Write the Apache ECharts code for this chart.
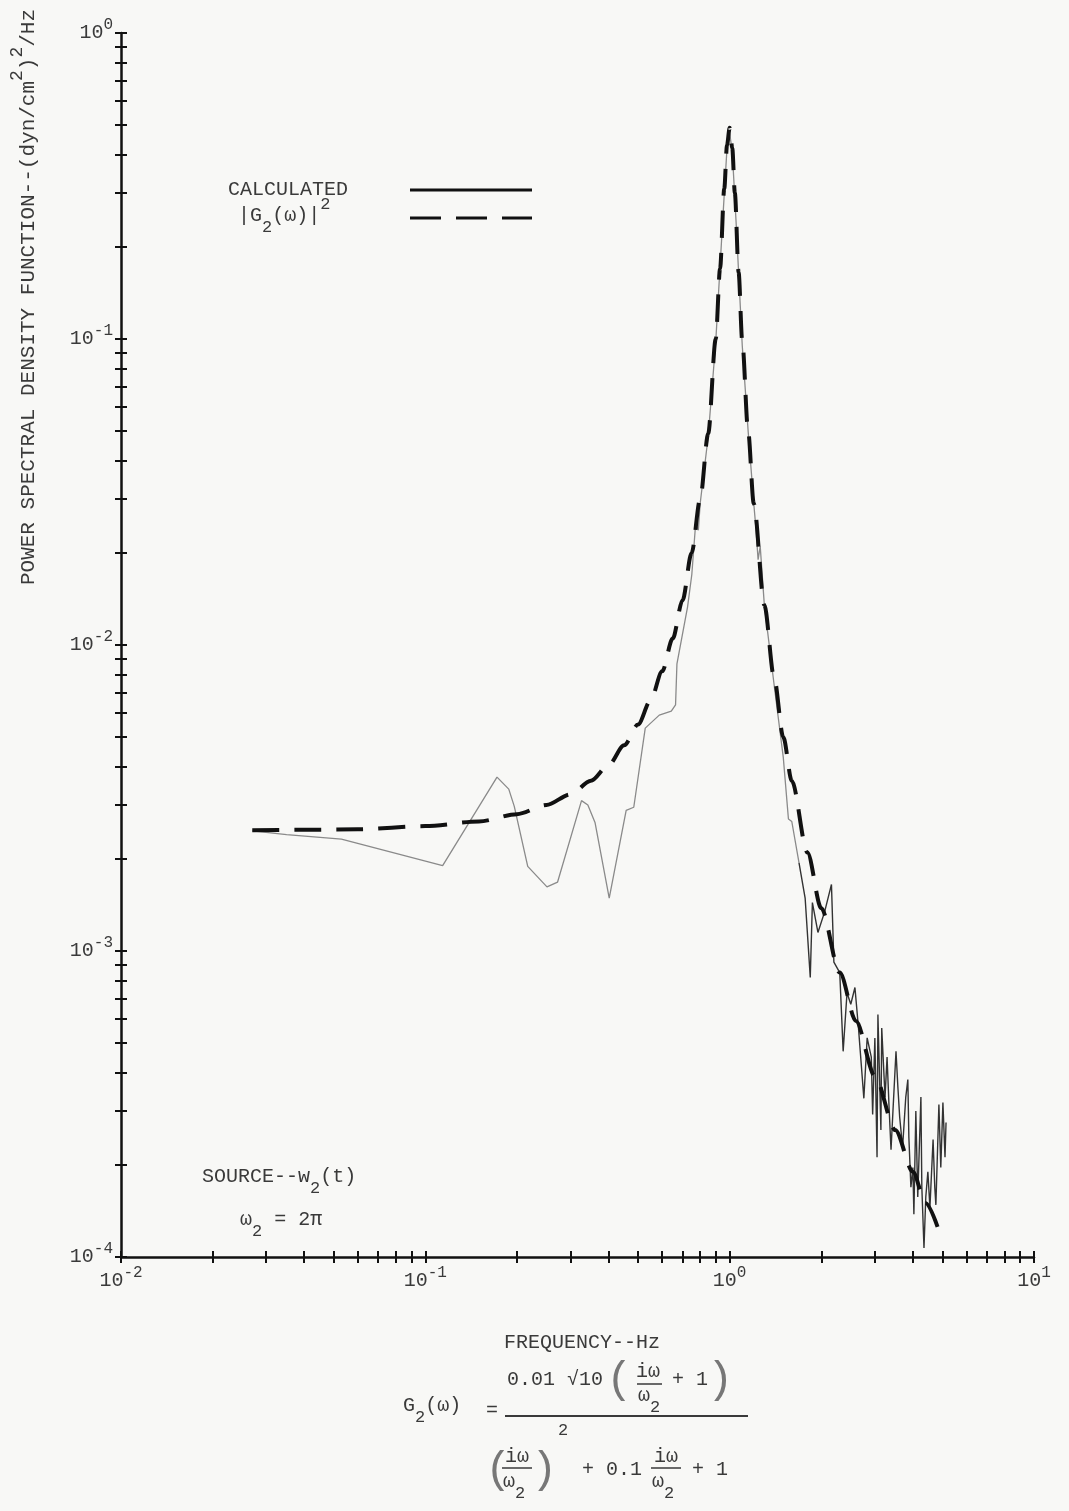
<!DOCTYPE html>
<html>
<head>
<meta charset="utf-8">
<script src="https://cdn.jsdelivr.net/npm/echarts@6.0.0/dist/echarts.min.js"></script>
<style>
  html, body { margin: 0; padding: 0; background: #f8f8f6; }
  #chart { width: 1069px; height: 1511px; }
</style>
</head>
<body>
<div id="chart"></div>
<script>
// light trace (computed spectrum)
var calcFreq = [0.027, 0.035, 0.053, 0.114, 0.172, 0.188, 0.196, 0.217, 0.251, 0.272,
  0.326, 0.342, 0.361, 0.402, 0.457, 0.484, 0.528, 0.587, 0.643, 0.664,
  0.671, 0.727, 0.751, 0.773, 0.789, 0.80, 0.85, 0.90, 0.95, 0.98,
  1.00, 1.02, 1.05, 1.10, 1.15, 1.20, 1.22, 1.24, 1.26, 1.30,
  1.40, 1.50, 1.56, 1.60, 1.69, 1.77, 1.84, 1.87, 1.95, 2.05,
  2.16, 2.20, 2.30, 2.36, 2.43, 2.50, 2.58, 2.65, 2.76, 2.83,
  2.92, 2.95, 3.00, 3.05, 3.07, 3.14, 3.16, 3.24, 3.29, 3.34,
  3.39, 3.44, 3.52, 3.57, 3.62, 3.70, 3.79, 3.85, 3.88, 3.94,
  4.00, 4.03, 4.09, 4.15, 4.25, 4.28, 4.35, 4.41, 4.48, 4.55,
  4.66, 4.72, 4.76, 4.87, 4.94, 5.02, 5.10, 5.14];
var calcPsd = [2.47e-3, 2.40e-3, 2.32e-3, 1.90e-3, 3.70e-3, 3.38e-3, 2.97e-3, 1.89e-3, 1.62e-3, 1.68e-3,
  3.10e-3, 3.00e-3, 2.63e-3, 1.49e-3, 2.88e-3, 2.95e-3, 5.35e-3, 5.90e-3, 6.08e-3, 6.37e-3,
  8.67e-3, 1.33e-2, 1.70e-2, 2.49e-2, 2.37e-2, 2.9e-2, 4.8e-2, 0.098, 0.25, 0.42,
  0.47, 0.41, 0.24, 0.095, 0.050, 0.029, 0.024, 0.019, 0.021, 0.0135,
  7.4e-3, 4.3e-3, 2.7e-3, 2.65e-3, 1.94e-3, 1.49e-3, 8.2e-4, 1.44e-3, 1.15e-3, 1.34e-3,
  1.65e-3, 9.2e-4, 8.5e-4, 4.7e-4, 7.3e-4, 6.7e-4, 7.6e-4, 5.6e-4, 3.3e-4, 5.2e-4,
  4.5e-4, 2.92e-4, 5.2e-4, 2.12e-4, 6.2e-4, 2.6e-4, 5.6e-4, 3.33e-4, 4.5e-4, 3.09e-4,
  2.24e-4, 3.0e-4, 4.7e-4, 3.6e-4, 2.86e-4, 2.28e-4, 3.33e-4, 3.8e-4, 2.46e-4, 1.69e-4,
  1.96e-4, 1.38e-4, 3.0e-4, 1.57e-4, 3.33e-4, 1.69e-4, 1.07e-4, 1.57e-4, 1.9e-4, 1.45e-4,
  2.42e-4, 1.69e-4, 1.48e-4, 3.15e-4, 1.96e-4, 3.2e-4, 2.12e-4, 2.75e-4];
// the trace prints faint up to here and heavy in the noisy tail after it
var calcTailStart = 44;

// |G2(w)|^2 heavy dashed curve
var fitFreq = [0.027, 0.04, 0.06, 0.1, 0.15, 0.2, 0.25, 0.3, 0.35, 0.4,
  0.45, 0.5, 0.55, 0.6, 0.65, 0.7, 0.75, 0.8, 0.85, 0.9,
  0.93, 0.96, 0.98, 1.0, 1.02, 1.04, 1.07, 1.1, 1.15, 1.2,
  1.3, 1.4, 1.5, 1.6, 1.8, 2.0, 2.3, 2.6, 3.0, 3.5,
  4.0, 4.4, 4.87];
var fitPsd = [2.48e-3, 2.49e-3, 2.5e-3, 2.56e-3, 2.65e-3, 2.8e-3, 3.0e-3, 3.25e-3, 3.6e-3, 4.05e-3,
  4.7e-3, 5.5e-3, 6.6e-3, 8.2e-3, 1.05e-2, 1.4e-2, 2.0e-2, 3.0e-2, 4.9e-2, 0.10,
  0.17, 0.31, 0.43, 0.49, 0.42, 0.30, 0.165, 0.098, 0.05, 0.029,
  1.35e-2, 7.8e-3, 5.0e-3, 3.6e-3, 2.1e-3, 1.38e-3, 8.5e-4, 5.9e-4, 3.9e-4, 2.6e-4,
  1.9e-4, 1.5e-4, 1.22e-4];

var xDecades = [-2, -1, 0, 1];
var yDecades = [-4, -3, -2, -1, 0];
var tickSteps = [1, 2, 3, 4, 5, 6, 7, 8, 9];

var FONT = '"Liberation Mono", "DejaVu Sans Mono", monospace';
var INK = '#3a3a3a';

function logTicks(decades) {
  var t = [];
  for (var i = 0; i < decades.length - 1; i++) {
    for (var k = 0; k < tickSteps.length; k++) {
      t.push(+(tickSteps[k] * Math.pow(10, decades[i])).toPrecision(3));
    }
  }
  t.push(Math.pow(10, decades[decades.length - 1]));
  return t;
}
function decadeValues(decades) {
  return decades.map(function (d) { return Math.pow(10, d); });
}
function pairs(xs, ys) {
  return xs.map(function (x, i) { return [x, ys[i]]; });
}
function powLabel(v) {
  var e = Math.round(Math.log10(v));
  return '{b|10}{s|' + e + '}';
}

var labelRich = {
  b: { fontFamily: FONT, fontSize: 20, lineHeight: 32, color: INK },
  s: { fontFamily: FONT, fontSize: 16, lineHeight: 16, color: INK, verticalAlign: 'top' }
};
var textRich = {
  b: { fontFamily: FONT, fontSize: 20, lineHeight: 40, fill: INK },
  sub: { fontFamily: FONT, fontSize: 17, lineHeight: 17, fill: INK, verticalAlign: 'bottom' },
  sup: { fontFamily: FONT, fontSize: 17, lineHeight: 17, fill: INK, verticalAlign: 'top' }
};
var titleRich = {
  b: { fontFamily: FONT, fontSize: 21, lineHeight: 40, fill: INK },
  sup: { fontFamily: FONT, fontSize: 18, lineHeight: 18, fill: INK, verticalAlign: 'top' }
};

function logAxis(dec, inside, withLabels, extra) {
  var ax = {
    type: 'log',
    logBase: 10,
    min: Math.pow(10, dec[0]),
    max: Math.pow(10, dec[dec.length - 1]),
    axisLine: { show: withLabels, lineStyle: { color: '#111', width: 2.5 } },
    axisTick: {
      show: true, inside: inside, length: 6,
      customValues: logTicks(dec),
      lineStyle: { color: '#111', width: 2 }
    },
    minorTick: { show: false },
    splitLine: { show: false },
    axisLabel: { show: false }
  };
  if (withLabels) {
    ax.axisLabel = {
      show: true,
      customValues: decadeValues(dec),
      formatter: powLabel,
      rich: labelRich
    };
  }
  for (var k in extra) ax[k] = extra[k];
  return ax;
}

// text helper: plain parts are wrapped as {b|...} so sub/superscripts sit right
function txt(x, y, text, opts, rot) {
  var st = { text: text, x: 0, y: 0, font: '20px ' + FONT, fill: INK,
    textAlign: 'left', textVerticalAlign: 'middle', rich: textRich };
  for (var k in (opts || {})) st[k] = opts[k];
  return { type: 'text', silent: true, x: x, y: y, rotation: rot || 0, style: st };
}
function seg(x1, y1, x2, y2, style) {
  var st = { stroke: INK, lineWidth: 2 };
  for (var k in (style || {})) st[k] = style[k];
  return { type: 'line', silent: true, shape: { x1: x1, y1: y1, x2: x2, y2: y2 }, style: st };
}
var paren = { font: '44px ' + FONT, fill: '#777' };

var calcData = pairs(calcFreq, calcPsd);

var chart = echarts.init(document.getElementById('chart'), null, { renderer: 'canvas' });

var option = {
  backgroundColor: '#f8f8f6',
  animation: false,
  grid: { left: 121, right: 35, top: 33, bottom: 254 },
  xAxis: [
    logAxis(xDecades, false, true, { position: 'bottom' }),
    logAxis(xDecades, true, false, { position: 'bottom' })
  ],
  yAxis: [
    logAxis(yDecades, false, true, { position: 'left' }),
    logAxis(yDecades, true, false, { position: 'left' })
  ],
  series: [{
    name: 'CALCULATED',
    type: 'line',
    data: calcData.slice(0, calcTailStart + 1),
    symbol: 'none',
    lineStyle: { color: '#8a8a8a', width: 1.3 },
    z: 2
  }, {
    name: 'CALCULATED',
    type: 'line',
    data: calcData.slice(calcTailStart),
    symbol: 'none',
    lineStyle: { color: '#333', width: 1.4 },
    z: 2
  }, {
    name: '|G2(w)|^2',
    type: 'line',
    data: pairs(fitFreq, fitPsd),
    symbol: 'none',
    smooth: 0.3,
    smoothMonotone: 'x',
    lineStyle: { color: '#111', width: 4, type: [27, 15], cap: 'butt' },
    z: 3
  }],
  graphic: [
    // y axis title, reads bottom to top
    txt(28, 297, '{b|POWER SPECTRAL DENSITY FUNCTION--(dyn/cm}{sup|2}{b|)}{sup|2}{b|/Hz}',
      { textAlign: 'center', rich: titleRich }, Math.PI / 2),
    // legend
    txt(228, 190, 'CALCULATED'),
    txt(238, 216, '{b||G}{sub|2}{b|(ω)|}{sup|2}'),
    seg(410, 190, 532, 190, { stroke: '#111', lineWidth: 3 }),
    seg(410, 218, 532, 218, { stroke: '#111', lineWidth: 3, lineDash: [31, 15] }),
    // source note
    txt(202, 1177, '{b|SOURCE--w}{sub|2}{b|(t)}'),
    txt(240, 1220, '{b|ω}{sub|2}{b| = 2π}'),
    // x axis title
    txt(582, 1343, 'FREQUENCY--Hz', { textAlign: 'center' }),
    // transfer function
    txt(403, 1406, '{b|G}{sub|2}{b|(ω)}'),
    txt(486, 1411, '='),
    seg(505, 1416, 748, 1416),
    txt(507, 1380, '0.01 √10'),
    txt(606, 1380, '(', paren),
    txt(648, 1372, 'iω', { textAlign: 'center' }),
    seg(637, 1384, 662, 1384, { lineWidth: 1.5 }),
    txt(638, 1396, '{b|ω}{sub|2}'),
    txt(672, 1380, '+ 1'),
    txt(707, 1380, ')', paren),
    txt(558, 1430, '2', { font: '17px ' + FONT }),
    txt(485, 1470, '(', paren),
    txt(517, 1457, 'iω', { textAlign: 'center' }),
    seg(502, 1468, 532, 1468, { lineWidth: 1.5 }),
    txt(503, 1482, '{b|ω}{sub|2}'),
    txt(531, 1470, ')', paren),
    txt(582, 1470, '+ 0.1'),
    txt(666, 1457, 'iω', { textAlign: 'center' }),
    seg(651, 1468, 681, 1468, { lineWidth: 1.5 }),
    txt(652, 1482, '{b|ω}{sub|2}'),
    txt(692, 1470, '+ 1')
  ]
};
chart.setOption(option);
</script>
</body>
</html>
